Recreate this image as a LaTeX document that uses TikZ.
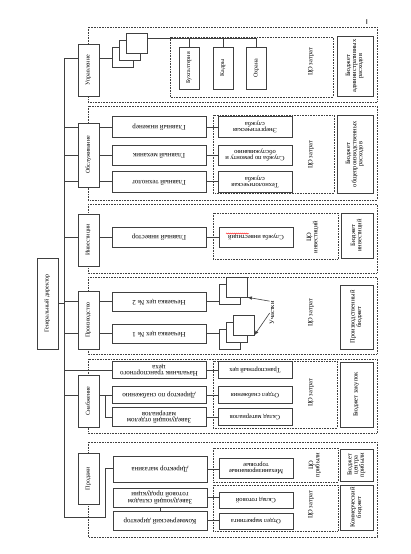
\documentclass[tikz,border=0pt]{standalone}
\usepackage{fontspec}
\setmainfont{Liberation Serif}
\usetikzlibrary{decorations.pathmorphing}
\newcommand\upt[1]{\rotatebox{90}{\begin{tabular}{@{}c@{}}#1\end{tabular}}}
\newcommand\dnt[1]{\rotatebox{180}{\begin{tabular}{@{}c@{}}#1\end{tabular}}}
\renewcommand{\arraystretch}{0.8}
\begin{document}
\begin{tikzpicture}[x=1pt,y=-1pt,line width=0.6pt,draw=black!75,
  box/.style={draw,fill=white,inner sep=0pt,font=\fontsize{6}{7}\selectfont},
  fbox/.style={box,minimum width=21pt},
  wbox/.style={box,minimum width=94pt,font=\fontsize{7}{8}\selectfont},
  sbox/.style={box,minimum width=74pt,font=\fontsize{6.5}{7.5}\selectfont},
  bbox/.style={box,minimum width=34pt,font=\fontsize{6.5}{7.5}\selectfont},
  sq/.style={box,minimum width=21pt,minimum height=20pt},
  frame/.style={densely dotted},
  co/.style={inner sep=0pt,font=\fontsize{6.5}{7.5}\selectfont}]
\useasboundingbox (0,0) rectangle (410,554);
% section frames
\draw[frame] (88,27) rectangle (377,102);
\draw[frame] (88,106) rectangle (377,200);
\draw[frame] (88,204) rectangle (377,273);
\draw[frame] (88,277) rectangle (377,354);
\draw[frame] (88,359) rectangle (377,433);
\draw[frame] (88,442) rectangle (377,537);
% inner frames
\draw[frame] (170,37) rectangle (333,97);
\draw[frame] (213,115) rectangle (334,193);
\draw[frame] (213,213) rectangle (338,259);
\draw[frame] (213,361) rectangle (337,428);
\draw[frame] (213,448) rectangle (338,482);
\draw[frame] (213,485) rectangle (338,531);
% bus
\coordinate (bus top) at (64,58);
\coordinate (bus bot) at (64,517);
\draw (bus top) -- (bus bot);
\node[fbox,minimum height=91pt] (gd) at (47.5,303.5) {\upt{Генеральный директор}};
\draw (gd.east) -- (gd.east -| bus top);
% Управление
\node[fbox,minimum height=52pt] (upr) at (88.5,70) {\upt{Управление}};
\node[sq] (sq1) at (122.5,57) {};
\node[sq] (sq2) at (129.5,50) {};
\node[sq] (sq3) at (136.5,43) {};
\draw (bus top) -- (upr.west |- bus top);
\draw (upr.east |- bus top) -- (sq1.west |- bus top);
\node[box,minimum width=20pt,minimum height=42pt] (buh) at (189,68) {\upt{Бухгалтерия}};
\node[box,minimum width=20pt,minimum height=42pt] (kadr) at (223,68) {\upt{Кадры}};
\node[box,minimum width=20pt,minimum height=42pt] (ohr) at (256.5,68) {\upt{Охрана}};
\coordinate (ubus) at (256.5,38);
\draw (sq3.east |- ubus) -- (ubus);
\foreach \n in {buh,kadr,ohr} \draw (\n.north) -- (\n.north |- ubus);
\node[co] (co1) at (311,62) {\upt{ЦО затрат}};
\node[bbox,minimum width=36pt,minimum height=60pt] (b1) at (355,66) {\upt{Бюджет\\административных\\расходов}};
% Обслуживание
\node[fbox,minimum height=64pt] (obs) at (88.5,155) {\upt{Обслуживание}};
\node[wbox,minimum height=21pt] (ing) at (159,127) {\dnt{Главный инженер}};
\node[wbox,minimum height=20pt] (meh) at (159,155) {\dnt{Главный механик}};
\node[wbox,minimum height=21pt] (teh) at (159,181.5) {\dnt{Главный технолог}};
\node[sbox,minimum height=21pt] (energ) at (255,127) {\dnt{Энергетическая\\служба}};
\node[sbox,minimum height=20pt] (rem) at (255,155) {\dnt{Служба по ремонту и\\обслуживанию}};
\node[sbox,minimum height=21pt] (tehs) at (255,181.5) {\dnt{Технологическая\\служба}};
\foreach \a/\b in {ing/energ,meh/rem,teh/tehs}{
  \draw (bus top |- \a.west) -- (obs.west |- \a.west);
  \draw (obs.east |- \a.west) -- (\a.west);
  \draw (\a.east) -- (\b.west);
}
\node[co] (co2) at (311,155) {\upt{ЦО затрат}};
\node[bbox,minimum width=36pt,minimum height=78pt] (b2) at (355,154) {\upt{Бюджет\\общепроизводственных\\расходов}};
% Инвестиции
\node[fbox,minimum height=52pt] (inv) at (88.5,240) {\upt{Инвестиции}};
\node[wbox,minimum height=20pt] (ginv) at (159,237) {\dnt{Главный инвестор}};
\node[sbox,minimum height=20pt] (sinv) at (256,237) {\dnt{Служба инвестиций}};
\draw[red,line width=0.4pt,decorate,decoration={snake,amplitude=0.5pt,segment length=2pt}] (226,233.5) -- (249,233.5);
\draw (bus top |- ginv.west) -- (inv.west |- ginv.west);
\draw (inv.east |- ginv.west) -- (ginv.west);
\draw (ginv.east) -- (sinv.west);
\node[co] (co3) at (313,237) {\upt{ЦО\\инвестиций}};
\node[bbox,minimum width=32pt,minimum height=45pt] (b3) at (357,235.5) {\upt{Бюджет\\инвестиций}};
% Производство
\node[fbox,minimum height=58pt] (pr) at (88.5,320) {\upt{Производство}};
\node[wbox,minimum height=19pt] (ceh2) at (159,301.5) {\dnt{Нечаевка цех № 2}};
\node[wbox,minimum height=19pt] (ceh1) at (159,333.5) {\dnt{Нечаевка цех № 1}};
\node[sq] (u21) at (229.5,294) {};
\node[sq] (u22) at (236.5,287) {};
\node[sq] (u11) at (229.5,339) {};
\node[sq] (u12) at (236.5,332) {};
\node[sq] (u13) at (243.5,325) {};
\foreach \a/\b in {ceh2/u21,ceh1/u11}{
  \draw (bus top |- \a.west) -- (pr.west |- \a.west);
  \draw (pr.east |- \a.west) -- (\a.west);
  \draw (\a.east) -- (\b.west |- \a.east);
}
\node[co] (uch) at (273,313) {\upt{Участки}};
\draw[-latex] (uch.north west) -- (u22.south east);
\draw[-latex] (uch.west) -- (u13.south east);
\node[co] (co4) at (311,313) {\upt{ЦО затрат}};
\node[bbox,minimum width=33pt,minimum height=64pt] (b4) at (356.5,317) {\upt{Производственный\\бюджет}};
% Снабжение
\node[fbox,minimum height=52pt] (snab) at (88.5,401) {\upt{Снабжение}};
\node[wbox,minimum height=17pt] (ntc) at (159,370) {\dnt{Начальник транспортного\\цеха}};
\node[wbox,minimum height=17pt] (dsn) at (159,395) {\dnt{Директор по снабжению}};
\node[wbox,minimum height=19pt] (zom) at (159,417) {\dnt{Заведующий отделом\\материалов}};
\node[sbox,minimum height=17pt] (trc) at (255,370) {\dnt{Транспортный цех}};
\node[sbox,minimum height=17pt] (osn) at (255,395) {\dnt{Отдел снабжения}};
\node[sbox,minimum height=17pt] (skm) at (255,417) {\dnt{Склад материалов}};
\coordinate (sbus) at (105,395);
\draw (bus top |- ntc.west) -- (ntc.west);
\draw (bus top |- dsn.west) -- (snab.west |- dsn.west);
\draw (snab.east |- dsn.west) -- (dsn.west);
\draw (sbus) |- (zom.west);
\foreach \a/\b in {ntc/trc,dsn/osn,zom/skm} \draw (\a.east) -- (\b.west);
\node[co] (co5) at (311,393) {\upt{ЦО затрат}};
\node[bbox,minimum width=33pt,minimum height=65pt] (b5) at (356.5,394.5) {\upt{Бюджет закупок}};
% Продажи
\node[fbox,minimum height=51pt] (prod) at (88.5,478.5) {\upt{Продажи}};
\node[wbox,minimum height=26pt] (dmag) at (160,469) {\dnt{Директор магазина}};
\node[wbox,minimum height=19pt] (zsk) at (160,497.5) {\dnt{Заведующий складом\\готовой продукции}};
\node[wbox,minimum height=19pt] (kdir) at (160,520.5) {\dnt{Коммерческий директор}};
\node[sbox,minimum height=20pt] (mtor) at (256,468) {\dnt{Механизированные\\торговые}};
\node[sbox,minimum height=16pt] (skg) at (256,500) {\dnt{Склад готовой}};
\node[sbox,minimum height=16pt] (omar) at (256,521) {\dnt{Отдел маркетинга}};
\coordinate (pbus) at (105,468);
\draw (bus bot) -| (pbus) -- (dmag.west |- pbus);
\draw (zsk.south) -- (kdir.north);
\foreach \a/\b in {dmag/mtor,zsk/skg,kdir/omar} \draw (\a.east) -- (\b.west |- \a.east);
\node[co] (co6) at (315,465) {\upt{ЦО\\прибыли}};
\node[co] (co7) at (311,505) {\upt{ЦО затрат}};
\node[bbox,minimum width=33pt,minimum height=32pt] (b6) at (356.5,465) {\upt{Бюджет\\центра\\прибыли}};
\node[bbox,minimum width=33pt,minimum height=45pt] (b7) at (356.5,507.5) {\upt{Коммерческий\\бюджет}};
\node[co,font=\sffamily\fontsize{7}{8}\selectfont] (mark) at (367,22) {I};
\end{tikzpicture}
\end{document}
